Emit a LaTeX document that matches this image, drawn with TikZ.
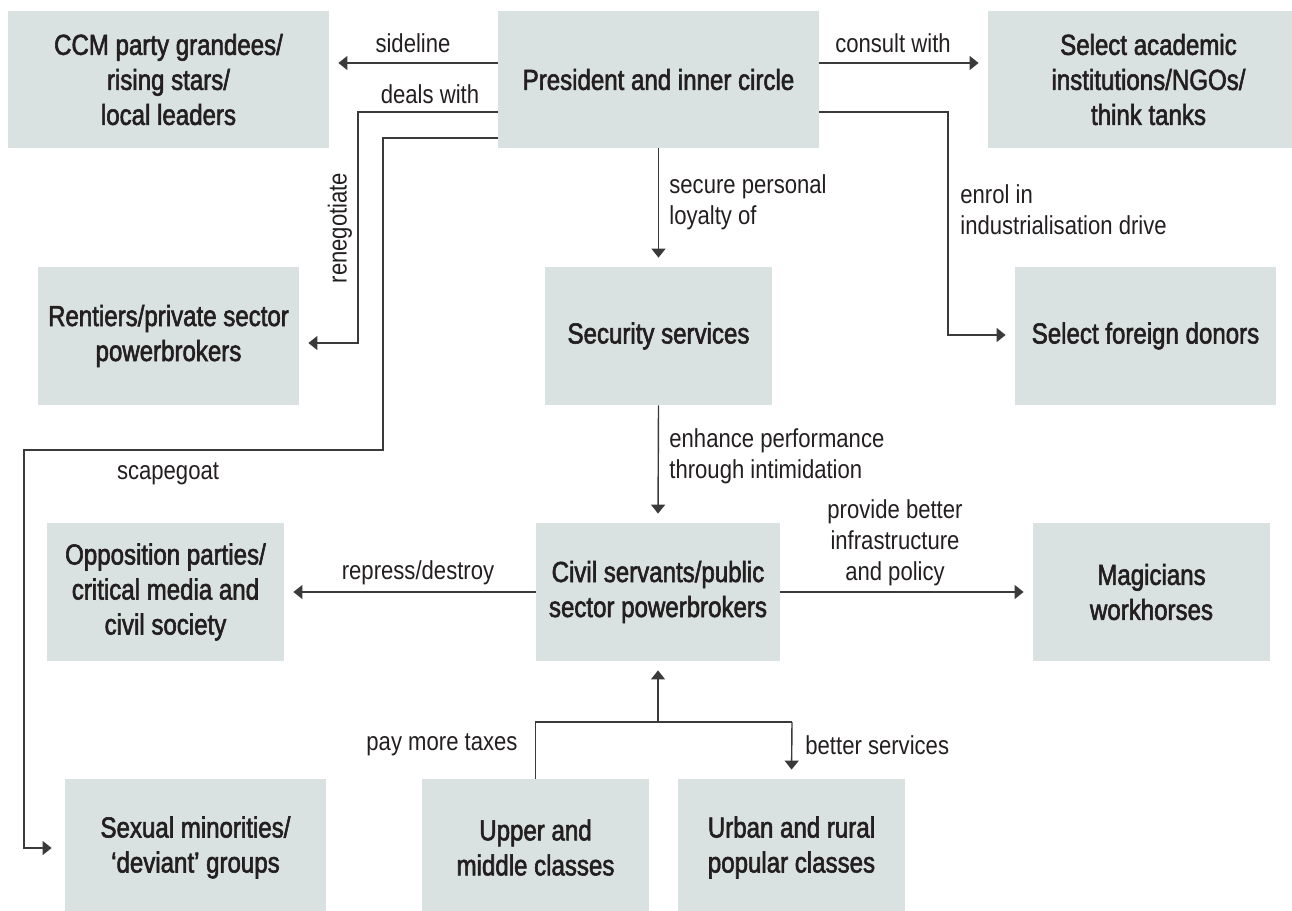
\documentclass[tikz,border=0pt]{standalone}
\usepackage{fontspec}
\setmainfont{Liberation Sans}[FakeStretch=0.85]
\newfontfamily\boxfont{Liberation Sans}[FakeStretch=0.83,FakeBold=2]
\usetikzlibrary{arrows.meta}
\definecolor{boxfill}{HTML}{D9E2E0}
\definecolor{ink}{HTML}{231F20}
\definecolor{wire}{HTML}{3A3A3A}
\tikzset{
  actor/.style={fill=boxfill, draw=none, inner sep=2pt, align=center,
    text=ink, font=\boxfont\fontsize{14.5}{17.5}\selectfont},
  rel/.style={inner sep=0pt, text=ink, font=\fontsize{13}{15.5}\selectfont},
  link/.style={draw=wire, line width=0.7pt},
  arr/.style={link, -{Triangle[length=4.5pt,width=7pt]}, shorten >=4.5pt},
}
\begin{document}
\begin{tikzpicture}[x=0.5pt,y=-0.5pt]
\useasboundingbox (0,0) rectangle (1292,911);

% actors
\node[actor, minimum width=160.5pt, minimum height=68.5pt] (ccm) at (168.5,79.5)
  {CCM party grandees/\\rising stars/\\local leaders};
\node[actor, minimum width=160.5pt, minimum height=68.5pt] (pres) at (658.5,79.5)
  {President and inner circle};
\node[actor, minimum width=160.5pt, minimum height=68.5pt] (acad) at (1148.5,79.5)
  {Select academic\\institutions/NGOs/\\think tanks};
\node[actor, minimum width=130.5pt, minimum height=69pt] (rent) at (168.5,336)
  {Rentiers/private sector\\powerbrokers};
\node[actor, minimum width=113.5pt, minimum height=69pt] (sec) at (658.5,336)
  {Security services};
\node[actor, minimum width=130.5pt, minimum height=69pt] (donor) at (1145.5,336)
  {Select foreign donors};
\node[actor, minimum width=118.5pt, minimum height=69pt] (opp) at (165.5,592)
  {Opposition parties/\\critical media and\\civil society};
\node[actor, minimum width=122pt, minimum height=69pt] (civil) at (658,592)
  {Civil servants/public\\sector powerbrokers};
\node[actor, minimum width=118.5pt, minimum height=69pt] (magic) at (1151.5,592)
  {Magicians\\workhorses};
\node[actor, minimum width=130.5pt, minimum height=68.5pt] (sex) at (195.5,847.5)
  {Sexual minorities/\\‘deviant’ groups};
\node[actor, minimum width=113.5pt, minimum height=68.5pt] (upper) at (535.5,847.5)
  {Upper and\\middle classes};
\node[actor, minimum width=113.5pt, minimum height=68.5pt] (urban) at (791.5,847.5)
  {Urban and rural\\popular classes};

% bend points
\coordinate (dealsbend) at (358,343);
\coordinate (scapeA) at (383,450);
\coordinate (scapeB) at (24,848);
\coordinate (enrolbend) at (948,335);
\coordinate (fork) at (658,722);
\coordinate (forkR) at (792,722);

% connectors
\draw[arr] (pres.west |- 0,63) -- (ccm.east |- 0,63);
\draw[arr] (pres.west |- 0,112) -| (dealsbend) -- (rent.east |- dealsbend);
\draw[arr, shorten >=6.5pt] (pres.west |- 0,138) -| (scapeA) -| (scapeB) -- (sex.west |- scapeB);
\draw[arr] (pres.east |- 0,63) -- (acad.west |- 0,63);
\draw[arr] (pres.east |- 0,112) -| (enrolbend) -- (donor.west |- enrolbend);
\draw[arr] (pres.south) -- (sec.north);
\draw[arr] (sec.south) -- (civil.north);
\draw[arr] (civil.west) -- (opp.east);
\draw[arr] (civil.east) -- (magic.west);
\draw[link] (upper.north) |- (fork) -- (forkR);
\draw[arr] (fork) -- (civil.south);
\draw[arr] (forkR) -- (urban.north);

% relation labels
\node[rel] (lside) at (413,43) {sideline};
\node[rel] (ldeal) at (430,94) {deals with};
\node[rel, rotate=90] (lreneg) at (340,228) {renegotiate};
\node[rel] (lconsult) at (893,43) {consult with};
\node[rel, align=left, anchor=west] (lsecure) at (669,202) {secure personal\\loyalty of};
\node[rel, align=left, anchor=west] (lenrol) at (960,210) {enrol in\\industrialisation drive};
\node[rel] (lscape) at (168,474) {scapegoat};
\node[rel, align=left, anchor=west] (lenh) at (669,456) {enhance performance\\through intimidation};
\node[rel] (lrep) at (418,573) {repress/destroy};
\node[rel, align=center] (lprov) at (895,543) {provide better\\infrastructure\\and policy};
\node[rel] (ltax) at (442,745) {pay more taxes};
\node[rel, anchor=west] (lserv) at (805,745) {better services};
\end{tikzpicture}
\end{document}
